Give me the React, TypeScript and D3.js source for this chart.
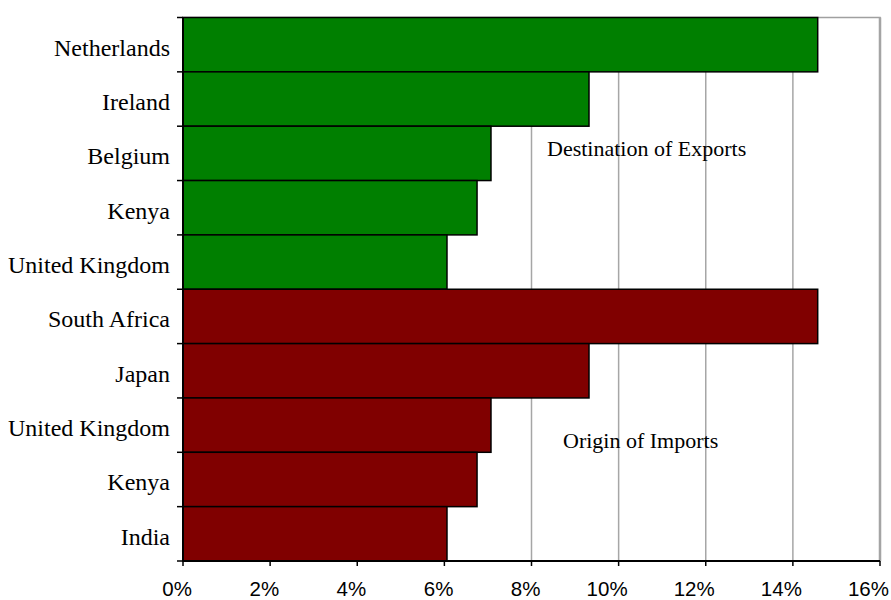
import React from "react";
import * as d3 from "d3";

const exportCountries = ["Netherlands", "Ireland", "Belgium", "Kenya", "United Kingdom"];
const exportValues = [14.57, 9.32, 7.07, 6.75, 6.06];
const importCountries = ["South Africa", "Japan", "United Kingdom", "Kenya", "India"];
const importValues = [14.57, 9.32, 7.07, 6.75, 6.06];
const xTickValues = [0, 2, 4, 6, 8, 10, 12, 14, 16];
const exportLabel = "Destination of Exports";
const importLabel = "Origin of Imports";

const W = 891;
const H = 600;
const left = 183;
const right = 880;
const top = 17.5;
const bottom = 561;

type Row = { key: string; name: string; value: number; group: "export" | "import" };

const rows: Row[] = [
  ...exportCountries.map((n, i) => ({ key: `e${i}`, name: n, value: exportValues[i], group: "export" as const })),
  ...importCountries.map((n, i) => ({ key: `i${i}`, name: n, value: importValues[i], group: "import" as const })),
];

export default function App() {
  const x = d3.scaleLinear().domain([0, 16]).range([left, right]);
  const y = d3
    .scaleBand<string>()
    .domain(rows.map((r) => r.key))
    .range([top, bottom])
    .padding(0);
  const bw = y.bandwidth();
  const boundaries = d3.range(rows.length + 1).map((i) => top + i * bw);

  return (
    <svg
      width={W}
      height={H}
      style={{ position: "absolute", left: 0, top: 0, background: "#fff" }}
    >
      <rect x={0} y={0} width={W} height={H} fill="#fff" />
      {/* plot border */}
      <rect
        x={left}
        y={top}
        width={right - left}
        height={bottom - top}
        fill="none"
        stroke="#a0a0a0"
        strokeWidth={1.5}
      />
      <line x1={right} x2={right} y1={top} y2={bottom} stroke="#a0a0a0" strokeWidth={2.5} />
      {/* gridlines */}
      {xTickValues.slice(1).map((v) => (
        <line
          key={`g${v}`}
          x1={x(v)}
          x2={x(v)}
          y1={top}
          y2={bottom}
          stroke="#a6a6a6"
          strokeWidth={1.5}
        />
      ))}
      {/* bars */}
      {rows.map((r) => (
        <rect
          key={r.key}
          x={x(0)}
          y={y(r.key)!}
          width={x(r.value) - x(0)}
          height={bw}
          fill={r.group === "export" ? "#007f00" : "#800000"}
          stroke="#000"
          strokeWidth={1.5}
        />
      ))}
      {/* axes */}
      <line x1={left} x2={left} y1={top} y2={bottom} stroke="#000" strokeWidth={2} />
      <line x1={left} x2={right} y1={bottom} y2={bottom} stroke="#000" strokeWidth={2} />
      {boundaries.map((b, i) => (
        <line key={`yt${i}`} x1={left - 6} x2={left} y1={b} y2={b} stroke="#000" strokeWidth={1.5} />
      ))}
      {xTickValues.map((v) => (
        <line key={`xt${v}`} x1={x(v)} x2={x(v)} y1={bottom} y2={bottom + 5} stroke="#000" strokeWidth={1.5} />
      ))}
      {/* category labels */}
      {rows.map((r) => (
        <text
          key={`l${r.key}`}
          x={170}
          y={y(r.key)! + bw / 2 + 11}
          textAnchor="end"
          fontFamily="'Liberation Serif', 'Times New Roman', serif"
          fontSize={24}
          fill="#000"
        >
          {r.name}
        </text>
      ))}
      {/* x tick labels */}
      {xTickValues.map((v) => (
        <text
          key={`xl${v}`}
          x={x(v) + 9}
          y={595.5}
          textAnchor="end"
          fontFamily="'Liberation Sans', Arial, sans-serif"
          fontSize={20.5}
          fill="#000"
        >
          {`${v}%`}
        </text>
      ))}
      {/* annotations */}
      <text
        x={547}
        y={156}
        fontFamily="'Liberation Serif', 'Times New Roman', serif"
        fontSize={22}
        fill="#000"
      >
        {exportLabel}
      </text>
      <text
        x={563}
        y={448}
        fontFamily="'Liberation Serif', 'Times New Roman', serif"
        fontSize={22}
        fill="#000"
      >
        {importLabel}
      </text>
    </svg>
  );
}
